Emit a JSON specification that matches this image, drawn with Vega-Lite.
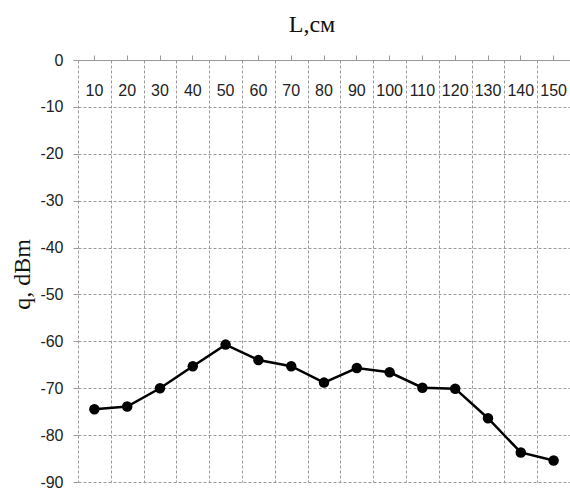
{
  "$schema": "https://vega.github.io/schema/vega-lite/v6.json",
  "autosize": "none",
  "padding": {"left": 78, "top": 60, "right": 0, "bottom": 7},
  "width": 492,
  "height": 422,
  "background": "white",
  "title": {
    "text": "L,см",
    "font": "Liberation Serif",
    "fontSize": 24,
    "fontWeight": "normal",
    "color": "#111",
    "anchor": "middle",
    "baseline": "alphabetic",
    "offset": -4,
    "dx": -12
  },
  "config": {
    "view": {"stroke": null},
    "axis": {
      "labelFont": "Liberation Sans",
      "labelFontSize": 16,
      "labelColor": "#222",
      "gridColor": "#9a9a9a",
      "gridDash": [3, 2],
      "gridOpacity": 1,
      "gridWidth": 1,
      "tickColor": "#9a9a9a",
      "domainColor": "#9a9a9a"
    }
  },
  "data": {
    "values": [
      {"L": "10", "q": -74.5},
      {"L": "20", "q": -73.9},
      {"L": "30", "q": -70.0},
      {"L": "40", "q": -65.3},
      {"L": "50", "q": -60.7},
      {"L": "60", "q": -64.0},
      {"L": "70", "q": -65.3},
      {"L": "80", "q": -68.8},
      {"L": "90", "q": -65.7},
      {"L": "100", "q": -66.6},
      {"L": "110", "q": -69.9},
      {"L": "120", "q": -70.1},
      {"L": "130", "q": -76.4},
      {"L": "140", "q": -83.7},
      {"L": "150", "q": -85.4}
    ]
  },
  "encoding": {
    "y": {
      "field": "q",
      "type": "quantitative",
      "scale": {"domain": [-90, 0], "nice": false, "zero": false},
      "axis": {
        "title": "q, dBm",
        "titleFont": "Liberation Serif",
        "titleFontSize": 24,
        "titleFontWeight": "normal",
        "titleColor": "#111",
        "titleX": -56,
        "titleY": 214,
        "titleAngle": 270,
        "titleAlign": "center",
        "titleBaseline": "middle",
        "values": [0, -10, -20, -30, -40, -50, -60, -70, -80, -90],
        "labelExpr": "'' + datum.value",
        "grid": true,
        "domain": false,
        "ticks": true,
        "tickSize": 5,
        "labelPadding": 10
      }
    }
  },
  "layer": [
    {
      "mark": {"type": "line", "color": "#000", "strokeWidth": 2.5},
      "encoding": {
        "x": {
          "field": "L",
          "type": "ordinal",
          "sort": null,
          "scale": {"paddingInner": 0, "paddingOuter": 0},
          "axis": {
            "orient": "bottom",
            "title": null,
            "grid": true,
            "tickBand": "extent",
            "labels": false,
            "ticks": false,
            "domain": false
          }
        }
      }
    },
    {
      "mark": {"type": "point", "filled": true, "color": "#000", "opacity": 1, "size": 110},
      "encoding": {
        "x": {
          "field": "L",
          "type": "ordinal",
          "sort": null,
          "scale": {"paddingInner": 0, "paddingOuter": 0},
          "axis": {
            "orient": "top",
            "title": null,
            "grid": false,
            "ticks": true,
            "tickSize": 5,
            "domain": true,
            "labelAngle": 0,
            "labelBaseline": "middle",
            "labelPadding": -35
          }
        }
      }
    }
  ],
  "resolve": {"axis": {"x": "independent"}}
}
